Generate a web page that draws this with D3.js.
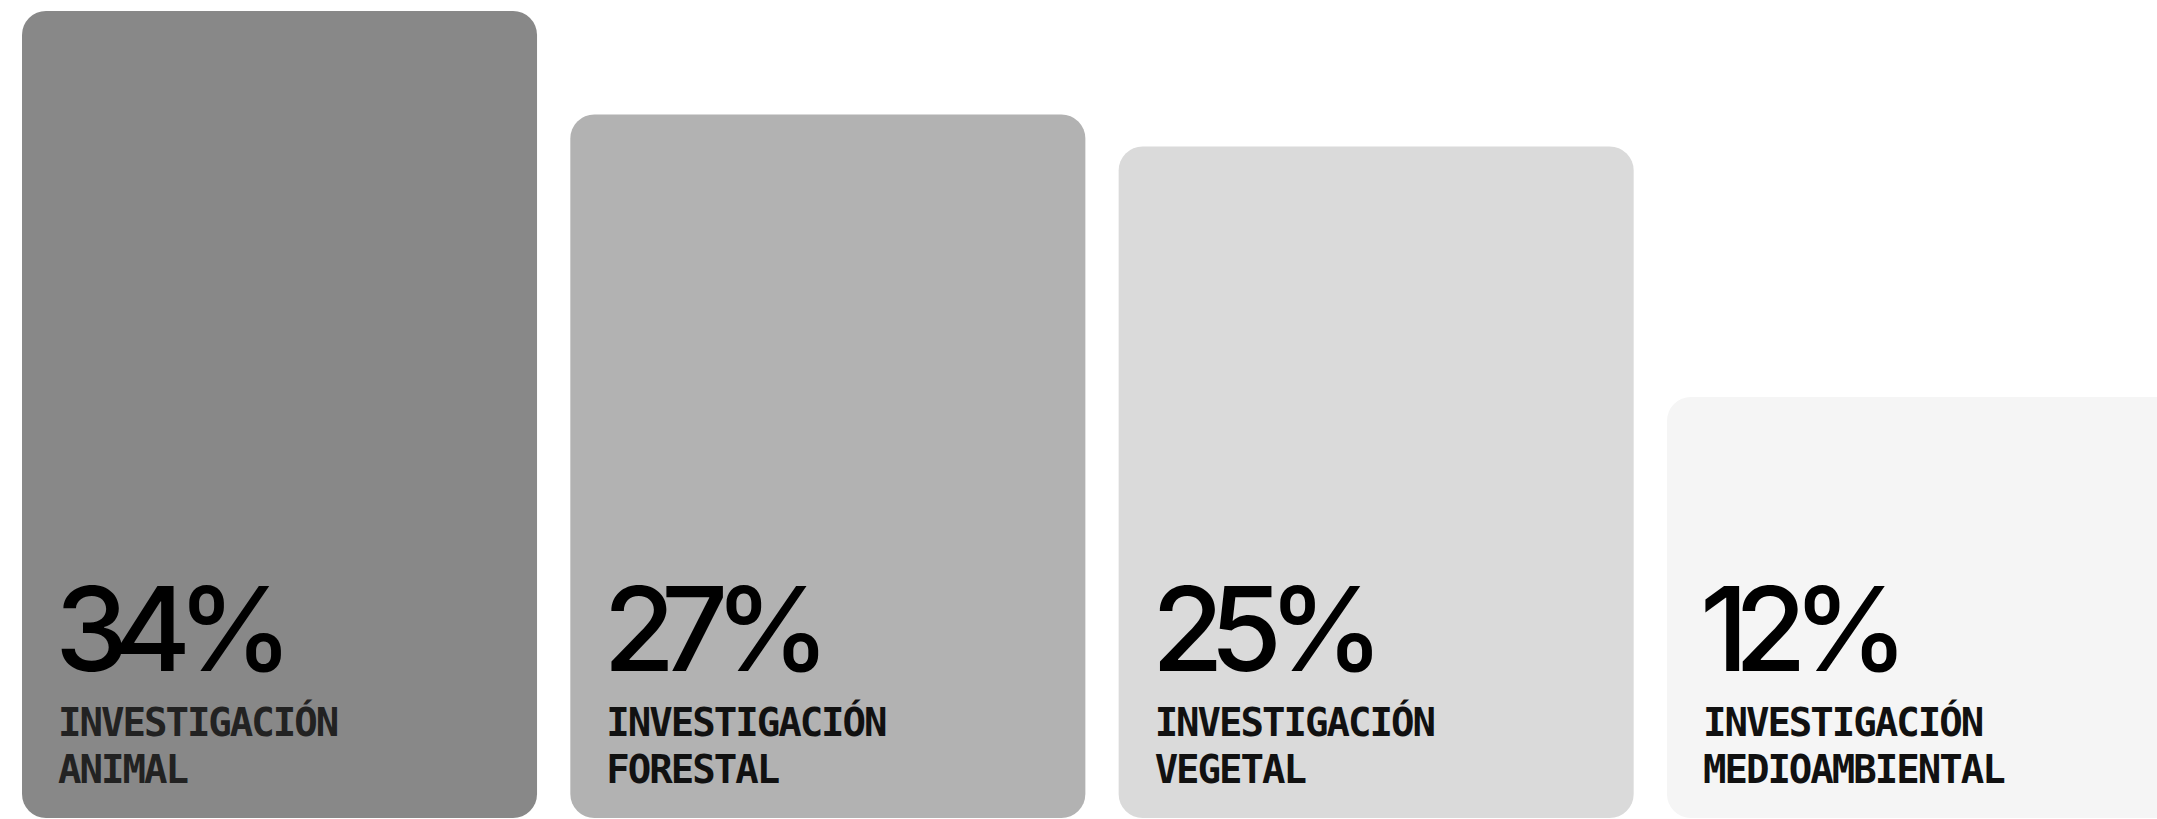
<!DOCTYPE html>
<html>
<head>
<meta charset="utf-8">
<script src="https://cdn.jsdelivr.net/npm/d3@7"></script>
<style>
  html, body { margin: 0; padding: 0; background: #fff; }
  svg { display: block; }
  .pct { font-family: Inter, "Noto Sans", sans-serif; font-weight: 500; font-size: 117px; letter-spacing: -0.12em; fill: #000; }
  .lbl { font-family: "DejaVu Sans Mono", monospace; font-weight: 600; font-size: 39px; letter-spacing: -2px; }
</style>
</head>
<body>
<div id="chart"></div>
<script>
const categories = ["INVESTIGACIÓN ANIMAL", "INVESTIGACIÓN FORESTAL", "INVESTIGACIÓN VEGETAL", "INVESTIGACIÓN MEDIOAMBIENTAL"];
const values = [34, 27, 25, 12];
const barColors = ["#888888", "#b2b2b2", "#dadada", "#f5f5f5"];
const labelColors = ["#222222", "#111111", "#111111", "#111111"];

const W = 2157, H = 819;
const bottom = 818;

const svg = d3.select("#chart").append("svg")
  .attr("width", W)
  .attr("height", H);

const x = d3.scaleBand()
  .domain(categories)
  .range([22, 2182])
  .paddingInner(0.0607)
  .paddingOuter(0);

// bar height grows with the square root of the share
const h = d3.scaleSqrt()
  .domain([0, 34])
  .range([-144, 807]);

const data = categories.map((c, i) => ({ name: c, value: values[i], color: barColors[i], text: labelColors[i] }));

const g = svg.selectAll("g.bar")
  .data(data)
  .join("g")
  .attr("class", "bar");

g.append("rect")
  .attr("x", d => x(d.name))
  .attr("y", d => bottom - h(d.value))
  .attr("width", x.bandwidth())
  .attr("height", d => h(d.value))
  .attr("rx", 24)
  .attr("fill", d => d.color);

g.append("text")
  .attr("class", "pct")
  .attr("x", d => x(d.name) + 33)
  .attr("y", 671)
  .text(d => d.value + "%");

const lbl = g.append("text")
  .attr("class", "lbl")
  .attr("fill", d => d.text);

lbl.append("tspan")
  .attr("x", d => x(d.name) + 36)
  .attr("y", 736)
  .text(d => d.name.split(" ")[0]);

lbl.append("tspan")
  .attr("x", d => x(d.name) + 36)
  .attr("y", 783)
  .text(d => d.name.split(" ").slice(1).join(" "));
</script>
</body>
</html>
